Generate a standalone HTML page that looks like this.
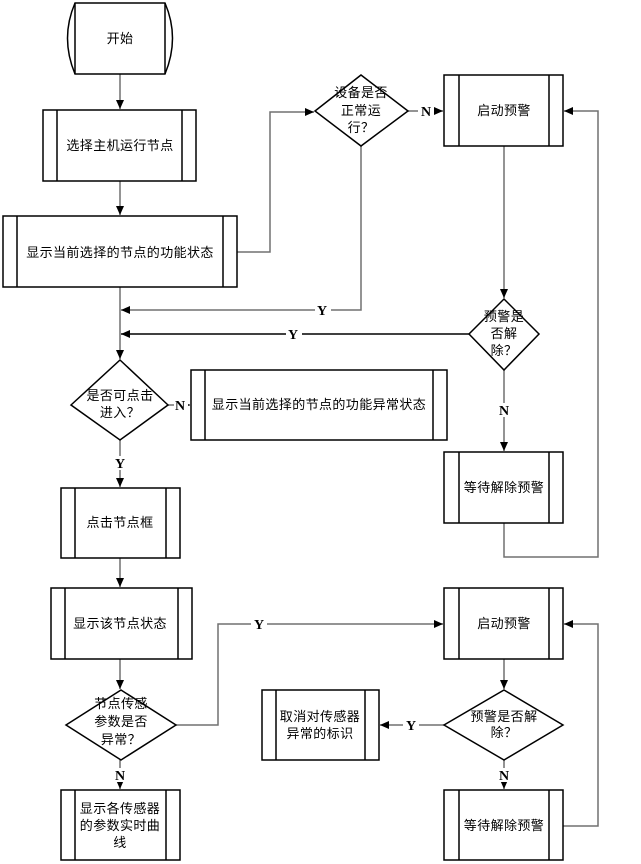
<!DOCTYPE html>
<html><head><meta charset="utf-8"><style>
html,body{margin:0;padding:0;background:#fff;}
svg{display:block;}
text{font-family:"Liberation Sans","Noto Sans CJK SC",sans-serif;font-size:13px;letter-spacing:0.4px;fill:#000;}
.b{font-family:"Liberation Serif",serif;font-weight:bold;font-size:14px;letter-spacing:0;}
</style></head><body>
<svg width="641" height="864" viewBox="0 0 641 864" xmlns="http://www.w3.org/2000/svg">
<defs><marker id="a" markerWidth="10" markerHeight="10" refX="9" refY="5" orient="auto" markerUnits="userSpaceOnUse"><path d="M0,1 L9,5 L0,9 z" fill="#000"/></marker></defs>
<g fill="none" stroke="#707070" stroke-width="1.5">
<path d="M120,74 V109" marker-end="url(#a)"/>
<path d="M120,181 V215" marker-end="url(#a)"/>
<path d="M237,252 H270 V112 H314" marker-end="url(#a)"/>
<path d="M408,111 H443" marker-end="url(#a)"/>
<path d="M361,146 V310 H121" marker-end="url(#a)"/>
<path d="M504,146 V298" marker-end="url(#a)"/>
<path d="M469,334 H121" stroke="#000" marker-end="url(#a)"/>
<path d="M504,370 V451" marker-end="url(#a)"/>
<path d="M504,523 V557 H598 V111 H564" marker-end="url(#a)"/>
<path d="M120,287 V359" marker-end="url(#a)"/>
<path d="M168,405 H190" marker-end="url(#a)"/>
<path d="M120,440 V487" marker-end="url(#a)"/>
<path d="M120,558 V587" marker-end="url(#a)"/>
<path d="M120,659 V689" marker-end="url(#a)"/>
<path d="M176,725 H218 V624 H443" marker-end="url(#a)"/>
<path d="M504,659 V689" marker-end="url(#a)"/>
<path d="M444,725 H380" marker-end="url(#a)"/>
<path d="M504,760 V789" marker-end="url(#a)"/>
<path d="M120,760 V789" marker-end="url(#a)"/>
<path d="M563,826 H598 V624 H564" marker-end="url(#a)"/>
</g>
<g fill="#fff" stroke="#000" stroke-width="1.5">
<path d="M75,3 H165 Q180,38 165,74 H75 Q60,38 75,3 z"/>
<path d="M75,3 V74 M165,3 V74"/>
<rect x="43" y="110" width="153" height="71"/><path d="M57,110 V181 M182,110 V181"/>
<rect x="3" y="216" width="234" height="71"/><path d="M17,216 V287 M223,216 V287"/>
<path d="M361,75 L408,111 L361,146 L315,111 z"/>
<rect x="444" y="75" width="119" height="71"/><path d="M459,75 V146 M549,75 V146"/>
<path d="M504,299 L539,334 L504,370 L469,334 z"/>
<rect x="444" y="452" width="119" height="71"/><path d="M459,452 V523 M549,452 V523"/>
<path d="M120,360 L168,405 L120,440 L71,405 z"/>
<rect x="191" y="370" width="256" height="70"/><path d="M205,370 V440 M433,370 V440"/>
<rect x="61" y="488" width="119" height="70"/><path d="M75,488 V558 M166,488 V558"/>
<rect x="51" y="588" width="141" height="71"/><path d="M65,588 V659 M178,588 V659"/>
<path d="M121,690 L176,725 L121,760 L66,725 z"/>
<rect x="444" y="588" width="119" height="71"/><path d="M459,588 V659 M549,588 V659"/>
<path d="M504,690 L563,725 L504,760 L444,725 z"/>
<rect x="262" y="690" width="117" height="70"/><path d="M276,690 V760 M365,690 V760"/>
<rect x="444" y="790" width="119" height="70"/><path d="M459,790 V860 M549,790 V860"/>
<rect x="61" y="790" width="119" height="70"/><path d="M75,790 V860 M166,790 V860"/>
</g>
<g text-anchor="middle">
<text x="120" y="43">开始</text>
<text x="120" y="150">选择主机运行节点</text>
<text x="120" y="257">显示当前选择的节点的功能状态</text>
<text x="361" y="97">设备是否</text><text x="361" y="115">正常运</text><text x="361" y="132">行？</text>
<text x="504" y="115">启动预警</text>
<text x="504" y="321">预警是</text><text x="504" y="338">否解</text><text x="504" y="355">除？</text>
<text x="504" y="492">等待解除预警</text>
<text x="120" y="400">是否可点击</text><text x="120" y="417">进入？</text>
<text x="319" y="409">显示当前选择的节点的功能异常状态</text>
<text x="120" y="527">点击节点框</text>
<text x="120" y="628">显示该节点状态</text>
<text x="121" y="708">节点传感</text><text x="121" y="726">参数是否</text><text x="121" y="744">异常？</text>
<text x="504" y="721">预警是否解</text><text x="504" y="737">除？</text>
<text x="504" y="628">启动预警</text>
<text x="320" y="721">取消对传感器</text><text x="320" y="738">异常的标识</text>
<text x="504" y="830">等待解除预警</text>
<text x="120" y="813">显示各传感器</text><text x="120" y="830">的参数实时曲</text><text x="120" y="847">线</text>
</g>
<g text-anchor="middle">
<rect x="418" y="104" width="16" height="14" fill="#fff"/><text class="b" x="426" y="116">N</text>
<rect x="315" y="303" width="16" height="14" fill="#fff"/><text class="b" x="322" y="315">Y</text>
<rect x="286" y="327" width="16" height="14" fill="#fff"/><text class="b" x="293" y="339">Y</text>
<rect x="496" y="403" width="16" height="14" fill="#fff"/><text class="b" x="504" y="415">N</text>
<rect x="174" y="398" width="14" height="14" fill="#fff"/><text class="b" x="180" y="410">N</text>
<rect x="112" y="456" width="16" height="14" fill="#fff"/><text class="b" x="120" y="468">Y</text>
<rect x="251" y="617" width="16" height="14" fill="#fff"/><text class="b" x="259" y="629">Y</text>
<rect x="403" y="718" width="16" height="14" fill="#fff"/><text class="b" x="411" y="730">Y</text>
<rect x="496" y="768" width="16" height="14" fill="#fff"/><text class="b" x="504" y="780">N</text>
<rect x="112" y="768" width="16" height="14" fill="#fff"/><text class="b" x="120" y="780">N</text>
</g>
</svg>
</body></html>
